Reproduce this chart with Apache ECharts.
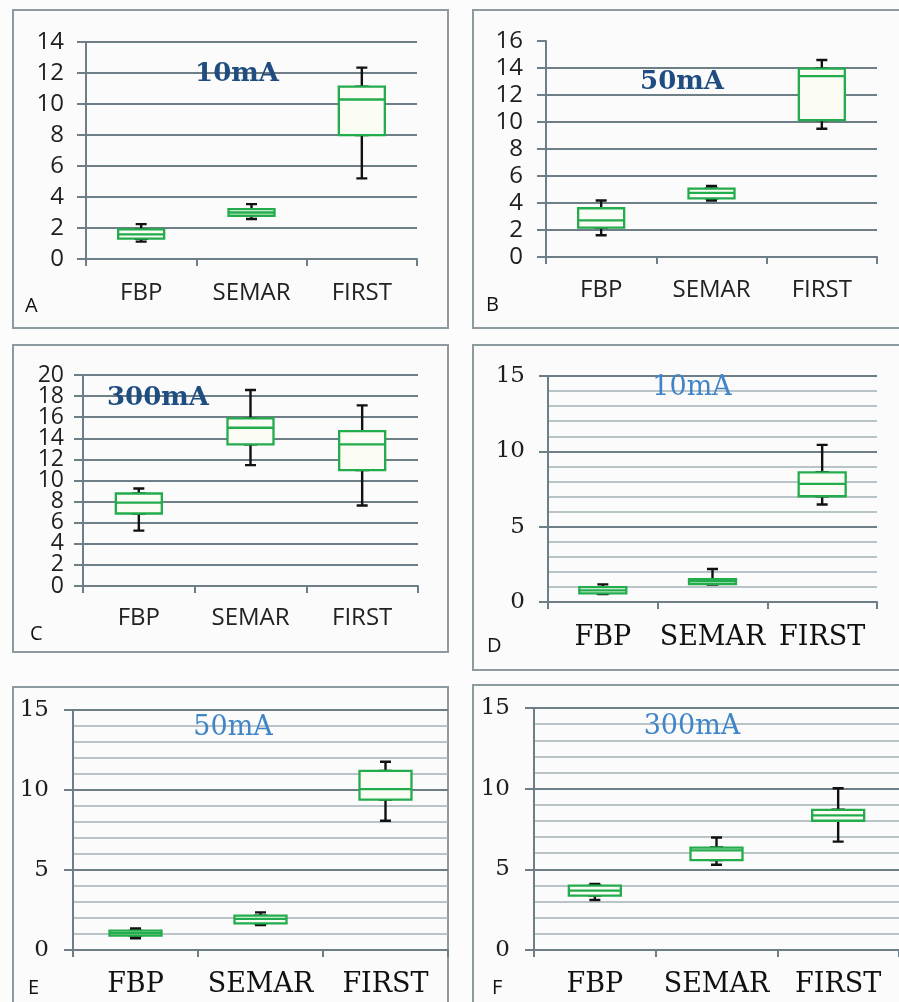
<!DOCTYPE html>
<html>
<head>
<meta charset="utf-8">
<script src="https://cdn.jsdelivr.net/npm/echarts@6/dist/echarts.min.js"></script>
<style>
html,body{margin:0;padding:0;background:#fdfcfc;}
#chart{width:899px;height:1002px;}
</style>
</head>
<body>
<div id="chart"></div>
<script>
// ---- Data (each row: [min, Q1, median, Q3, max]) ----
const categories = ['FBP', 'SEMAR', 'FIRST'];
const panelLetters = ['A', 'B', 'C', 'D', 'E', 'F'];
const panelTitles = ['10mA', '50mA', '300mA', '10mA', '50mA', '300mA'];
const yMax = [14, 16, 20, 15, 15, 15];
const yInterval = [2, 2, 2, 5, 5, 5];

const boxA = [[1.12, 1.31, 1.59, 1.91, 2.25], [2.58, 2.79, 3.00, 3.22, 3.54], [5.20, 7.99, 10.29, 11.12, 12.35]];
const boxB = [[1.61, 2.18, 2.72, 3.61, 4.18], [4.18, 4.35, 4.75, 5.07, 5.27], [9.50, 10.14, 13.40, 13.95, 14.59]];
const boxC = [[5.25, 6.87, 7.91, 8.77, 9.24], [11.46, 13.42, 15.00, 15.89, 18.58], [7.63, 10.98, 13.42, 14.68, 17.12]];
const boxD = [[0.53, 0.57, 0.77, 0.99, 1.17], [1.15, 1.19, 1.37, 1.52, 2.19], [6.47, 7.02, 7.84, 8.61, 10.43]];
const boxE = [[0.73, 0.90, 1.06, 1.21, 1.35], [1.56, 1.67, 1.94, 2.15, 2.35], [8.08, 9.40, 10.06, 11.19, 11.77]];
const boxF = [[3.10, 3.37, 3.68, 3.99, 4.10], [5.28, 5.57, 6.17, 6.35, 6.97], [6.72, 8.01, 8.34, 8.69, 10.03]];
const panelData = [boxA, boxB, boxC, boxD, boxE, boxF];

// ---- Layout / style ----
const gridRects = [
  {left: 86, top: 42, width: 331, height: 217},
  {left: 546, top: 41, width: 331, height: 216},
  {left: 83, top: 375, width: 335, height: 211},
  {left: 548, top: 376, width: 329, height: 226},
  {left: 73, top: 710, width: 375, height: 240},
  {left: 534, top: 708, width: 375, height: 242}
];
const frames = [
  [13, 10, 435, 318], [473, 10, 440, 318],
  [13, 345, 435, 307], [473, 345, 440, 325],
  [13, 687, 435, 330], [473, 685, 440, 330]
];
const titlePos = [[237, 74], [682, 82], [158, 398], [692, 388], [233, 728], [692, 727]];
const letterPos = [[25, 306], [486, 305], [30, 634], [487, 646], [28, 988], [492, 988]];
const xLabelMargin = [22, 21, 20, 22, 21, 21];
const yLabelMargin = [22, 23, 19, 23, 24, 24];
const boxWidths = [46, 46, 46, 47, 52, 52];

const GREEN = '#22ac4c';
const GRID_DARK = '#6e7e86';
const GRID_LIGHT = '#a3b2b9';
const SANS = '"Open Sans", "Liberation Sans", sans-serif';
const SERIF = '"DejaVu Serif", "Liberation Serif", serif';

const grids = [], xAxes = [], yAxes = [], series = [], graphics = [];

// panel C labels are densely packed; the ticks next to the ends are labelled by a twin axis
const isEdgeNeighbour = (v, max, step) => v === step || v === max - step;

for (let i = 0; i < 6; i++) {
  const oldStyle = i < 3;
  grids.push(Object.assign({containLabel: false}, gridRects[i]));
  // visible category axis (green boxes)
  xAxes.push({
    type: 'category', gridIndex: i, data: categories, boundaryGap: true,
    axisLine: {show: true, lineStyle: {color: GRID_DARK, width: 2}},
    axisTick: {show: true, length: 7, inside: false, alignWithLabel: false,
      lineStyle: {color: GRID_DARK, width: 2}},
    axisLabel: {
      interval: 0,
      margin: xLabelMargin[i], color: oldStyle ? '#222' : '#111',
      fontFamily: oldStyle ? SANS : SERIF,
      fontSize: oldStyle ? 24 : 27
    },
    splitLine: {show: false}
  });
  // hidden twin category axis (black whiskers), so the two series are not dodged
  xAxes.push({
    type: 'category', gridIndex: i, data: categories, boundaryGap: true, show: false,
    axisLine: {show: false}, axisTick: {show: false}, axisLabel: {show: false},
    splitLine: {show: false}
  });
  const labelFont = {
    margin: yLabelMargin[i], color: '#1e1e1e',
    fontFamily: oldStyle ? SANS : SERIF,
    fontSize: oldStyle ? (i === 2 ? 23 : 24) : 23
  };
  yAxes.push({
    type: 'value', gridIndex: i, min: 0, max: yMax[i], interval: yInterval[i],
    axisLine: {show: true, lineStyle: {color: GRID_DARK, width: 2}},
    axisTick: {show: true, length: 9, inside: false, lineStyle: {color: GRID_DARK, width: 2}},
    axisLabel: Object.assign({
      showMinLabel: true, showMaxLabel: true, hideOverlap: false,
      formatter: i === 2
        ? (v => isEdgeNeighbour(v, yMax[i], yInterval[i]) ? '' : String(v))
        : (v => String(v))
    }, labelFont),
    splitLine: {show: true, showMaxLine: i !== 1, lineStyle: {color: GRID_DARK, width: 2}},
    minorTick: {show: false, splitNumber: 5},
    minorSplitLine: {show: !oldStyle, lineStyle: {color: GRID_LIGHT, width: 1.6}}
  });

  const rows = panelData[i];
  // whiskers (black): min..max with short caps
  series.push({
    type: 'boxplot', xAxisIndex: 2 * i + 1, yAxisIndex: i, z: 2,
    boxWidth: [11, 11],
    silent: true,
    itemStyle: {color: 'transparent', borderColor: '#111', borderWidth: 2.4},
    emphasis: {disabled: true},
    data: rows.map(r => [r[0], r[1], r[2], r[3], r[4]])
  });
  // green box: Q1..Q3 with median
  series.push({
    type: 'boxplot', xAxisIndex: 2 * i, yAxisIndex: i, z: 3,
    boxWidth: [boxWidths[i], boxWidths[i]],
    silent: true,
    itemStyle: {color: '#fbfcf4', borderColor: GREEN, borderWidth: 2.3},
    emphasis: {disabled: true},
    data: rows.map(r => [r[1], r[1], r[2], r[3], r[3]])
  });

  const f = frames[i];
  graphics.push({
    type: 'rect', z: -10, silent: true,
    shape: {x: f[0], y: f[1], width: f[2], height: f[3]},
    style: {fill: '#fbfbfb', stroke: '#8d9aa0', lineWidth: 2}
  });
  graphics.push({
    type: 'text', z: 20, silent: true,
    x: titlePos[i][0], y: titlePos[i][1],
    style: {
      text: panelTitles[i], align: 'center', verticalAlign: 'middle',
      font: (oldStyle ? 'bold 26px ' : '27px ') + SERIF,
      fill: oldStyle ? '#1f4d80' : '#3f85c8'
    }
  });
  graphics.push({
    type: 'text', z: 20, silent: true,
    x: letterPos[i][0], y: letterPos[i][1],
    style: {
      text: panelLetters[i], align: 'left', verticalAlign: 'middle',
      font: '20px ' + SANS, fill: '#111'
    }
  });
}

// twin value axis for panel C: labels only for the ticks beside the ends
yAxes.push({
  type: 'value', gridIndex: 2, min: 0, max: yMax[2], interval: yInterval[2],
  position: 'left',
  axisLine: {show: false}, axisTick: {show: false}, splitLine: {show: false},
  axisLabel: {
    showMinLabel: false, showMaxLabel: false, hideOverlap: false,
    margin: yLabelMargin[2], color: '#1e1e1e', fontFamily: SANS, fontSize: 23,
    formatter: v => isEdgeNeighbour(v, yMax[2], yInterval[2]) ? String(v) : ''
  }
});

const chart = echarts.init(document.getElementById('chart'), null, {renderer: 'canvas'});
chart.setOption({
  backgroundColor: '#fdfcfc',
  animation: false,
  tooltip: {show: false},
  grid: grids,
  xAxis: xAxes,
  yAxis: yAxes,
  series: series,
  graphic: {elements: graphics}
});
</script>
</body>
</html>
